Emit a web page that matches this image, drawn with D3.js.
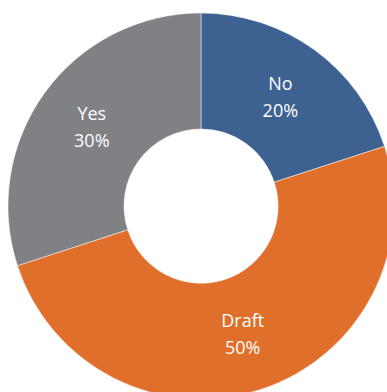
<!DOCTYPE html>
<html>
<head>
<meta charset="utf-8">
<script src="https://cdn.jsdelivr.net/npm/d3@7"></script>
<style>
  html, body { margin: 0; padding: 0; background: #fff; }
  svg { display: block; }
</style>
</head>
<body>
<svg id="chart" width="387" height="392"></svg>
<script>
// Status breakdown, drawn clockwise from 12 o'clock
const categories = ["No", "Draft", "Yes"];
const values = [20, 50, 30];
const colors = ["#3D6190", "#DF6F2B", "#808185"];

const width = 387, height = 392;
const cx = 201, cy = 206;
const outerR = 193, innerR = 77;

const svg = d3.select("#chart");
const g = svg.append("g").attr("transform", `translate(${cx},${cy})`);

const data = categories.map((c, i) => ({ name: c, value: values[i], color: colors[i] }));
const total = d3.sum(values);

const pie = d3.pie().sort(null).value(d => d.value);
const arc = d3.arc().innerRadius(innerR).outerRadius(outerR);
const labelArc = d3.arc().innerRadius((innerR + outerR) / 2).outerRadius((innerR + outerR) / 2);

const arcs = pie(data);

g.selectAll("path.slice")
  .data(arcs)
  .join("path")
  .attr("class", "slice")
  .attr("d", arc)
  .attr("fill", d => d.data.color)
  .attr("stroke", "#ffffff")
  .attr("stroke-width", 0.5);

const labels = g.selectAll("text.label")
  .data(arcs)
  .join("text")
  .attr("class", "label")
  .attr("text-anchor", "middle")
  .attr("fill", "#ffffff")
  .style("font-family", "'Open Sans', sans-serif")
  .style("font-size", "18px")
  .attr("transform", d => {
    const [x, y] = labelArc.centroid(d);
    return `translate(${x},${y})`;
  });

labels.append("tspan")
  .attr("x", 0)
  .attr("y", -7)
  .text(d => d.data.name);

labels.append("tspan")
  .attr("x", 0)
  .attr("y", 20)
  .text(d => d3.format(".0%")(d.data.value / total));
</script>
</body>
</html>
